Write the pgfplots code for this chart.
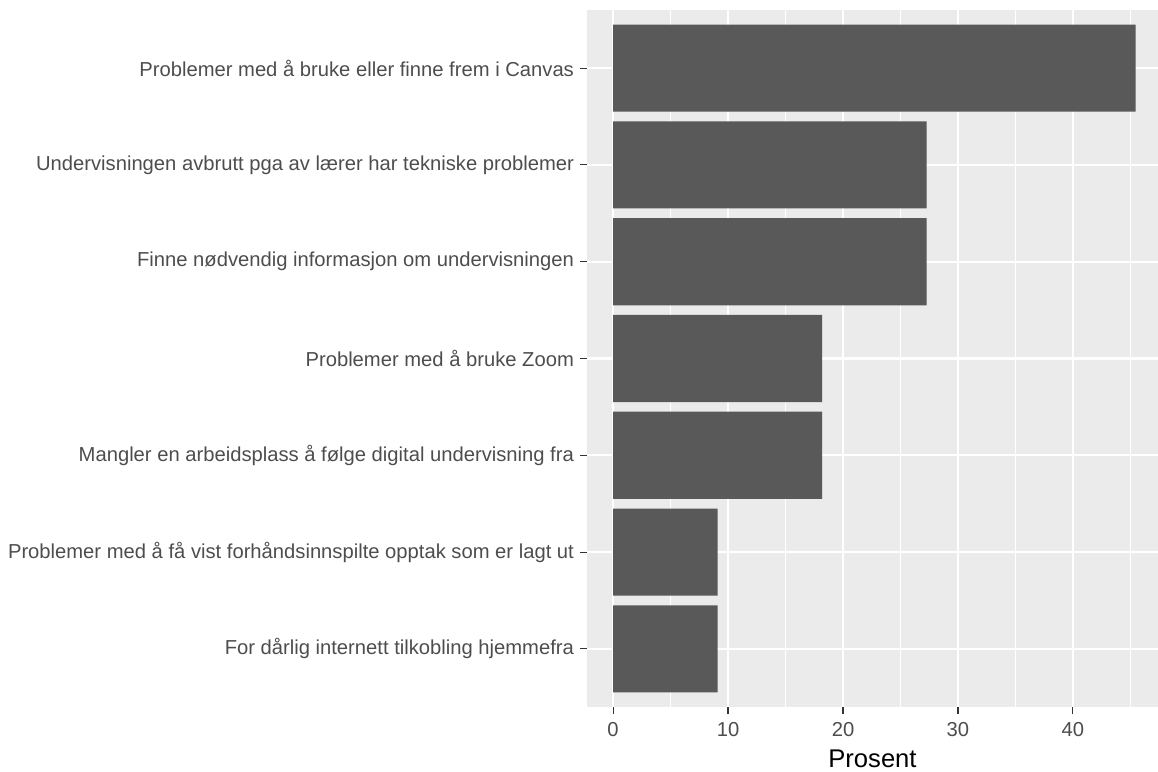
\documentclass[border=0pt]{standalone}
\usepackage{fontspec}
\setmainfont{Liberation Sans}
\usepackage{pgfplots}
\pgfplotsset{compat=1.18}
\definecolor{panelbg}{HTML}{EBEBEB}
\definecolor{barfill}{HTML}{595959}
\definecolor{ticktext}{HTML}{4D4D4D}
\definecolor{tickcol}{HTML}{333333}

\begin{document}
\begin{tikzpicture}
% page = 1158x772 px at 0.5pt/px, panel at origin
\path[use as bounding box] (-293.5pt,-32.5pt) rectangle (285.5pt,353.5pt);
\begin{axis}[
    at={(0pt,0pt)}, anchor=south west,
    scale only axis,
    width=285.5pt, height=348.5pt,
    xmin=-2.27, xmax=47.4,
    ymin=0.4, ymax=7.6,
    xbar, bar width=0.9,
    axis line style={draw=none},
    axis background/.style={fill=panelbg},
    xtick={0,10,20,30,40},
    minor xtick={5,15,25,35,45},
    ytick={1,2,3,4,5,6,7},
    yticklabels={
        For dårlig internett tilkobling hjemmefra,
        Problemer med å få vist forhåndsinnspilte opptak som er lagt ut,
        Mangler en arbeidsplass å følge digital undervisning fra,
        Problemer med å bruke Zoom,
        Finne nødvendig informasjon om undervisningen,
        Undervisningen avbrutt pga av lærer har tekniske problemer,
        Problemer med å bruke eller finne frem i Canvas},
    grid=both,
    major grid style={white, line width=1.1pt},
    minor grid style={white, line width=0.55pt},
    tick align=outside,
    xtick pos=bottom, ytick pos=left,
    major tick length=3.5pt, minor tick length=0pt,
    tick style={tickcol, line width=0.55pt},
    /pgf/number format/assume math mode=true,
    tick label style={font=\fontsize{10.1}{12}\selectfont, text=ticktext},
    xticklabel style={yshift=-0.5pt},
    yticklabel style={xshift=0.5pt},
    xlabel={Prosent},
    xlabel style={font=\fontsize{12.8}{15}\selectfont, text=black, yshift=0pt},
]
\addplot[draw=none, fill=barfill] coordinates {
    (9.09,1) (9.09,2) (18.18,3) (18.18,4) (27.27,5) (27.27,6) (45.45,7)
};
\end{axis}
\end{tikzpicture}
\end{document}
